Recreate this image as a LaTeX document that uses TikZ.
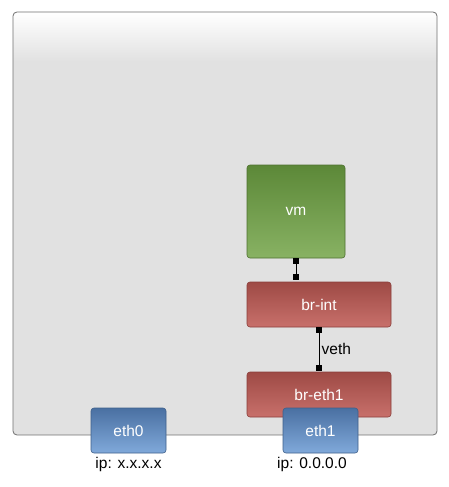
\documentclass[tikz,border=0pt]{standalone}
\usepackage{fontspec}
\setmainfont{Liberation Sans}
\definecolor{hostfill}{HTML}{E1E1E1}
\definecolor{hostline}{HTML}{707070}
\definecolor{gtop}{HTML}{5C8838}
\definecolor{gbot}{HTML}{88B263}
\definecolor{gline}{HTML}{4E7030}
\definecolor{rtop}{HTML}{9E4A45}
\definecolor{rbot}{HTML}{C8706B}
\definecolor{rline}{HTML}{8A3E3A}
\definecolor{btop}{HTML}{4A70A2}
\definecolor{bbot}{HTML}{80A9DA}
\definecolor{bline}{HTML}{3E5F8A}
\begin{document}
\begin{tikzpicture}[x=1pt,y=-1pt,
  box/.style={rounded corners=3pt, line width=0.6pt},
  greenbox/.style={box, draw=gline, top color=gtop, bottom color=gbot},
  redbox/.style={box, draw=rline, top color=rtop, bottom color=rbot},
  bluebox/.style={box, draw=bline, top color=btop, bottom color=bbot},
  boxtext/.style={text=white, font=\fontsize{15.5}{18}\selectfont},
  port/.style={fill=black, inner sep=0pt, minimum size=6pt},
  lbl/.style={font=\fontsize{15.5}{18}\selectfont, text=black},
  conn/.style={line width=0.8pt, black}]
\useasboundingbox (0,0) rectangle (449,487);
\fill[white] (0,0) rectangle (449,487);
% host box
\begin{scope}
\clip[rounded corners=4pt] (13,12) rectangle (437,435);
\shade[top color=white, bottom color=hostfill] (13,12) rectangle (437,62);
\fill[hostfill] (13,61.5) rectangle (437,435);
\end{scope}
\draw[hostline, line width=0.8pt, rounded corners=4pt] (13,12) rectangle (437,435);
% nodes
\path[greenbox] (247,165) rectangle (345,258);
\node[boxtext] (vm) at (296,211.5) {vm};
\path[redbox] (247,282) rectangle (391,327);
\node[boxtext] (brint) at (319,304.5) {br-int};
\path[redbox] (247,372) rectangle (391,417);
\node[boxtext] (breth) at (319,394.5) {br-eth1};
\path[bluebox] (91,408) rectangle (166,453);
\node[boxtext] (eth0) at (128.5,430.5) {eth0};
\path[bluebox] (283,408) rectangle (358,453);
\node[boxtext] (eth1) at (320.5,430.5) {eth1};
% labels
\node[lbl] (ip0) at (128.5,464) {ip: x.x.x.x};
\node[lbl] (ip1) at (312,464) {ip: 0.0.0.0};
% connectors
\node[port] (p1) at (296,261) {};
\node[port] (p2) at (296,277) {};
\draw[conn] (p1) -- (p2);
\node[port] (p3) at (319,330) {};
\node[port] (p4) at (319,368) {};
\draw[conn] (p3) -- node[right, lbl, xshift=-1pt] (veth) {veth} (p4);
\end{tikzpicture}
\end{document}
